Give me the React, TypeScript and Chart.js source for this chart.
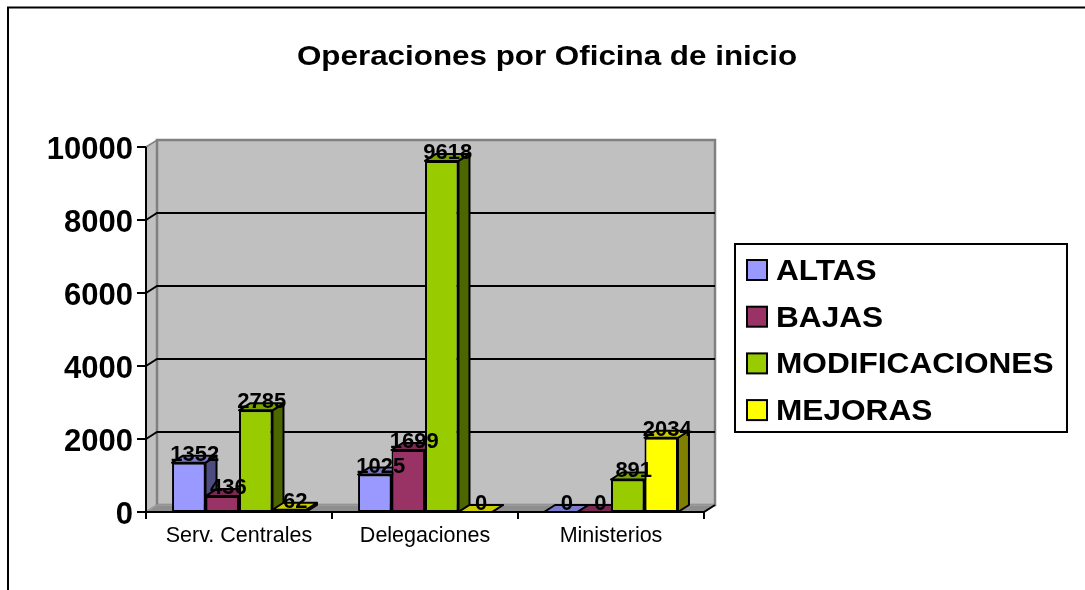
import React, { useEffect, useRef } from "react";
import { Chart, registerables } from "chart.js";

Chart.register(...registerables);

const chartTitle = "Operaciones por Oficina de inicio";
const categories = ["Serv. Centrales", "Delegaciones", "Ministerios"];
const seriesNames = ["ALTAS", "BAJAS", "MODIFICACIONES", "MEJORAS"];
const altas = [1352, 1025, 0];
const bajas = [436, 1699, 0];
const modificaciones = [2785, 9618, 891];
const mejoras = [62, 0, 2034];
const yMin = 0;
const yMax = 10000;
const yStep = 2000;

const frontColors = ["#9999FF", "#993366", "#99CC00", "#FFFF00"];
const topColors = ["#7A7ACC", "#7A2952", "#7AA300", "#CCCC00"];
const sideColors = ["#4C4C80", "#4C1933", "#4C6600", "#808000"];

const W = 1085;
const H = 590;
const DX = 11;
const DY = -7;
const FONT = "'Liberation Sans', Arial, Helvetica, sans-serif";

const excel3d = {
  id: "excel3d",
  beforeDraw(chart: any) {
    const ctx = chart.ctx as CanvasRenderingContext2D;
    const { left, right, top, bottom } = chart.chartArea;
    const yScale = chart.scales.y;
    const xScale = chart.scales.x;
    ctx.save();
    ctx.fillStyle = "#FFFFFF";
    ctx.fillRect(0, 0, W, H);

    // outer frame (left and top visible)
    ctx.strokeStyle = "#000";
    ctx.lineWidth = 2;
    ctx.beginPath();
    ctx.moveTo(8, H);
    ctx.lineTo(8, 7.5);
    ctx.lineTo(W, 7.5);
    ctx.stroke();

    // left wall
    ctx.fillStyle = "#C0C0C0";
    ctx.strokeStyle = "#808080";
    ctx.lineWidth = 1.5;
    ctx.beginPath();
    ctx.moveTo(left, top);
    ctx.lineTo(left + DX, top + DY);
    ctx.lineTo(left + DX, bottom + DY);
    ctx.lineTo(left, bottom);
    ctx.closePath();
    ctx.fill();
    ctx.stroke();

    // back wall
    ctx.beginPath();
    ctx.rect(left + DX, top + DY, right - left, bottom - top);
    ctx.fill();
    ctx.lineWidth = 2.5;
    ctx.stroke();

    // floor
    ctx.fillStyle = "#8E8E8E";
    ctx.strokeStyle = "#A8A8A8";
    ctx.lineWidth = 1;
    ctx.beginPath();
    ctx.moveTo(left, bottom);
    ctx.lineTo(left + DX, bottom + DY);
    ctx.lineTo(right + DX, bottom + DY);
    ctx.lineTo(right, bottom);
    ctx.closePath();
    ctx.fill();
    ctx.stroke();

    // gridlines on walls
    ctx.strokeStyle = "#000";
    ctx.lineWidth = 2;
    for (const t of yScale.ticks) {
      if (t.value <= yMin || t.value >= yMax) continue;
      const y = yScale.getPixelForValue(t.value);
      ctx.beginPath();
      ctx.moveTo(left, y);
      ctx.lineTo(left + DX, y + DY);
      ctx.lineTo(right + DX, y + DY);
      ctx.stroke();
    }

    // front axes
    ctx.beginPath();
    ctx.moveTo(left, top);
    ctx.lineTo(left, bottom);
    ctx.lineTo(right, bottom);
    ctx.lineTo(right + DX, bottom + DY);
    ctx.stroke();

    // y tick marks and labels
    ctx.fillStyle = "#000";
    ctx.font = `bold 31px ${FONT}`;
    ctx.textAlign = "right";
    ctx.textBaseline = "alphabetic";
    for (const t of yScale.ticks) {
      const y = yScale.getPixelForValue(t.value);
      ctx.beginPath();
      ctx.moveTo(left - 9, y);
      ctx.lineTo(left, y);
      ctx.stroke();
      ctx.fillText(String(t.value), left - 13, y + 11.5);
    }

    // x tick marks and labels
    const n = categories.length;
    for (let i = 0; i <= n; i++) {
      const x = xScale.getPixelForValue(i - 0.5);
      ctx.beginPath();
      ctx.moveTo(x, bottom);
      ctx.lineTo(x, bottom + 7);
      ctx.stroke();
    }
    ctx.font = `21.5px ${FONT}`;
    ctx.textAlign = "center";
    chart.data.labels.forEach((lab: string, i: number) => {
      const x = xScale.getPixelForValue(i);
      ctx.fillText(lab, x, bottom + 30);
    });

    // title
    ctx.save();
    ctx.font = `bold 28px ${FONT}`;
    ctx.textAlign = "center";
    ctx.translate(547, 65);
    ctx.scale(1.12, 1);
    ctx.fillText(chartTitle, 0, 0);
    ctx.restore();

    // legend
    const lx = 735, ly = 244, lw = 332, lh = 188;
    ctx.strokeStyle = "#000";
    ctx.lineWidth = 2;
    ctx.strokeRect(lx, ly, lw, lh);
    chart.data.datasets.forEach((ds: any, i: number) => {
      const base = 280 + i * 46.7;
      ctx.fillStyle = frontColors[i];
      ctx.fillRect(747, base - 20, 20, 20);
      ctx.strokeRect(747, base - 20, 20, 20);
      ctx.save();
      ctx.fillStyle = "#000";
      ctx.font = `bold 29px ${FONT}`;
      ctx.textAlign = "left";
      ctx.translate(776, base);
      ctx.scale(1.09, 1);
      ctx.fillText(ds.label, 0, 0);
      ctx.restore();
    });
    ctx.restore();
  },
  beforeDatasetsDraw(chart: any) {
    const ctx = chart.ctx as CanvasRenderingContext2D;
    const n = categories.length;
    const nd = chart.data.datasets.length;
    ctx.save();
    ctx.strokeStyle = "#000";
    ctx.lineWidth = 2;
    ctx.lineJoin = "round";
    for (let c = 0; c < n; c++) {
      for (let d = 0; d < nd; d++) {
        const el = chart.getDatasetMeta(d).data[c];
        const { x, y, base, width } = el.getProps(["x", "y", "base", "width"], true);
        const l = x - width / 2;
        const r = x + width / 2;
        // side face
        ctx.fillStyle = sideColors[d];
        ctx.beginPath();
        ctx.moveTo(r, y);
        ctx.lineTo(r + DX, y + DY);
        ctx.lineTo(r + DX, base + DY);
        ctx.lineTo(r, base);
        ctx.closePath();
        ctx.fill();
        ctx.stroke();
        // top face
        ctx.fillStyle = topColors[d];
        ctx.beginPath();
        ctx.moveTo(l, y);
        ctx.lineTo(l + DX, y + DY);
        ctx.lineTo(r + DX, y + DY);
        ctx.lineTo(r, y);
        ctx.closePath();
        ctx.fill();
        ctx.stroke();
      }
    }
    ctx.restore();
  },
  afterDatasetsDraw(chart: any) {
    const ctx = chart.ctx as CanvasRenderingContext2D;
    ctx.save();
    ctx.fillStyle = "#000";
    ctx.font = `bold 22px ${FONT}`;
    ctx.textAlign = "center";
    ctx.textBaseline = "alphabetic";
    chart.data.datasets.forEach((ds: any, d: number) => {
      chart.getDatasetMeta(d).data.forEach((el: any, i: number) => {
        const { x, y } = el.getProps(["x", "y"], true);
        ctx.fillText(String(ds.data[i]), x + 6, y - 2);
      });
    });
    ctx.restore();
  },
};

export default function App() {
  const ref = useRef<HTMLCanvasElement | null>(null);
  useEffect(() => {
    if (!ref.current) return;
    const series = [altas, bajas, modificaciones, mejoras];
    const chart = new Chart(ref.current, {
      type: "bar",
      data: {
        labels: categories,
        datasets: series.map((data, i) => ({
          label: seriesNames[i],
          data,
          backgroundColor: frontColors[i],
          borderColor: "#000000",
          borderWidth: 2,
          borderSkipped: false,
          categoryPercentage: 0.72,
          barPercentage: 1,
        })),
      },
      options: {
        responsive: false,
        animation: false,
        devicePixelRatio: 1,
        layout: { padding: { left: 146, top: 147, right: W - 704, bottom: H - 512 } },
        plugins: {
          legend: { display: false },
          title: { display: false },
          tooltip: { enabled: false },
        },
        scales: {
          x: { display: false },
          y: { display: false, min: yMin, max: yMax, ticks: { stepSize: yStep } },
        },
      },
      plugins: [excel3d],
    });
    return () => chart.destroy();
  }, []);
  return (
    <div style={{ position: "absolute", left: 0, top: 0, width: W, height: H }}>
      <canvas ref={ref} width={W} height={H} style={{ display: "block" }} />
    </div>
  );
}
